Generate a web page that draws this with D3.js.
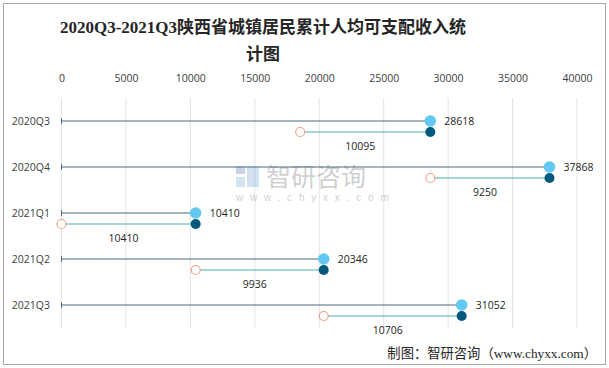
<!DOCTYPE html>
<html><head><meta charset="utf-8">
<script src="https://cdn.jsdelivr.net/npm/d3@7/dist/d3.min.js"></script>
<style>body{margin:0;background:#fff}svg{display:block}</style>
</head><body><svg id="c" width="609" height="368"></svg>
<script>
const categories = ["2020Q3","2020Q4","2021Q1","2021Q2","2021Q3"];
const cumulative = [28618, 37868, 10410, 20346, 31052];
const increase = [10095, 9250, 10410, 9936, 10706];
const xTicks = [0,5000,10000,15000,20000,25000,30000,35000,40000];

const svg = d3.select("#c");
svg.append("rect").attr("x",3.5).attr("y",3.5).attr("width",602).attr("height",361)
  .attr("fill","#fff").attr("stroke","#a6a6a6");

const x = d3.scaleLinear().domain([0,40000]).range([61.5,577]);
const y = d3.scaleBand().domain(categories).range([98,328]);

// title
const title = svg.append("text").attr("text-anchor","middle")
  .attr("font-family","'Liberation Serif','DejaVu Serif','Noto Sans CJK SC',serif")
  .attr("font-weight","bold").attr("font-size",17).attr("fill","#262626");
title.append("tspan").attr("x",263).attr("y",33).text("2020Q3-2021Q3陕西省城镇居民累计人均可支配收入统");
title.append("tspan").attr("x",263).attr("y",60).text("计图");

// grid
svg.append("g").selectAll("line").data(xTicks).join("line")
  .attr("x1",d=>x(d)).attr("x2",d=>x(d)).attr("y1",98).attr("y2",328)
  .attr("stroke","#e3e3e3").attr("stroke-width",1);

// axis on top
const ax = svg.append("g").attr("transform","translate(0,81)")
  .call(d3.axisTop(x).tickValues(xTicks).tickSize(0).tickFormat(d3.format("d")));
ax.select(".domain").remove();
ax.selectAll("text").attr("font-family","'Open Sans','Liberation Sans',sans-serif")
  .attr("font-size",10.5).attr("fill","#404040").attr("dy","0.35em");

// watermark
const wm = svg.append("g").attr("opacity",0.3);
wm.append("rect").attr("x",236).attr("y",166).attr("width",9).attr("height",8).attr("fill","#4a6fa0");
wm.append("rect").attr("x",247).attr("y",166).attr("width",12).attr("height",21).attr("fill","#6fa0d0");
wm.append("rect").attr("x",236).attr("y",177).attr("width",9).attr("height",10).attr("fill","#6fa0d0");
wm.append("text").attr("x",266).attr("y",186).attr("font-family","'Noto Sans CJK SC',sans-serif")
  .attr("font-size",25).attr("fill","#666").text("智研咨询");
wm.append("text").attr("x",236).attr("y",201).attr("font-family","'Liberation Sans',sans-serif")
  .attr("font-size",10).attr("letter-spacing",6.8).attr("fill","#666").text("www.chyxx.com");

// category labels
svg.append("g").selectAll("text").data(categories).join("text")
  .attr("x",50).attr("y",d=>y(d)+y.bandwidth()/2).attr("dy","0.35em").attr("text-anchor","end")
  .attr("font-family","'Open Sans','Liberation Sans',sans-serif").attr("font-size",10.5).attr("fill","#404040")
  .text(d=>d);

const rows = categories.map((c,i)=>({c, v:cumulative[i], inc:increase[i], s:cumulative[i]-increase[i]}));
const g = svg.append("g");
const cy = d=>y(d.c)+y.bandwidth()/2;

// top lines
g.selectAll(".tl").data(rows).join("line").attr("x1",x(0)).attr("x2",d=>x(d.v))
  .attr("y1",cy).attr("y2",cy).attr("stroke","#4b6d86").attr("stroke-width",1.2);
g.selectAll(".tk").data(rows).join("line").attr("x1",x(0)).attr("x2",x(0))
  .attr("y1",d=>cy(d)-3).attr("y2",d=>cy(d)+3).attr("stroke","#4b6d86").attr("stroke-width",1);
// lower lines
g.selectAll(".ll").data(rows).join("line").attr("x1",d=>x(d.s)).attr("x2",d=>x(d.v))
  .attr("y1",d=>cy(d)+11).attr("y2",d=>cy(d)+11).attr("stroke","#4fb0ad").attr("stroke-width",1.2);
// pink hollow
g.selectAll(".pc").data(rows).join("circle").attr("cx",d=>x(d.s)).attr("cy",d=>cy(d)+11).attr("r",4.5)
  .attr("fill","#fff").attr("stroke","#f2a08c").attr("stroke-width",1.2);
// dark dots
g.selectAll(".dd").data(rows).join("circle").attr("cx",d=>x(d.v)).attr("cy",d=>cy(d)+11).attr("r",5)
  .attr("fill","#005a7d");
// light dots
g.selectAll(".ld").data(rows).join("circle").attr("cx",d=>x(d.v)).attr("cy",cy).attr("r",5.8)
  .attr("fill","#63c9f3");
// value labels
g.selectAll(".vl").data(rows).join("text").attr("x",d=>x(d.v)+14).attr("y",cy).attr("dy","0.35em")
  .attr("font-family","'Open Sans','Liberation Sans',sans-serif").attr("font-size",10.5).attr("fill","#262626")
  .text(d=>d.v);
g.selectAll(".il").data(rows).join("text").attr("x",d=>(x(d.s)+x(d.v))/2-5).attr("y",d=>cy(d)+25).attr("dy","0.35em")
  .attr("text-anchor","middle")
  .attr("font-family","'Open Sans','Liberation Sans',sans-serif").attr("font-size",10.5).attr("fill","#262626")
  .text(d=>d.inc);

// footer
svg.append("text").attr("x",597).attr("y",358).attr("text-anchor","end")
  .attr("font-family","'Liberation Serif','Noto Sans CJK SC',serif").attr("font-size",13.3).attr("fill","#262626")
  .text("制图：智研咨询（www.chyxx.com）");
</script></body></html>
